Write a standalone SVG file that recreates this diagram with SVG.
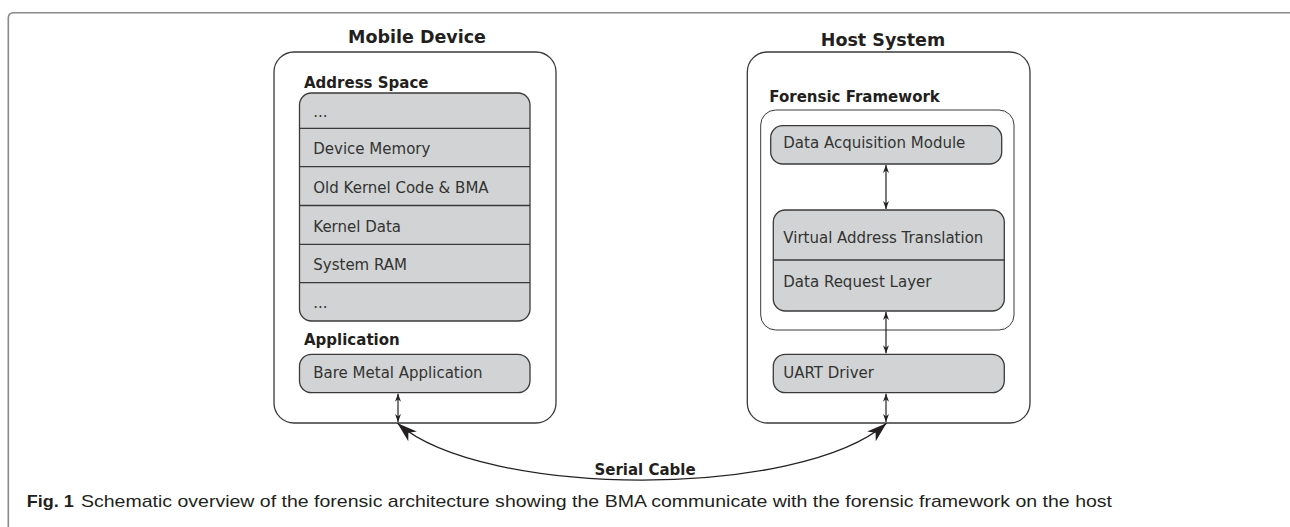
<svg xmlns="http://www.w3.org/2000/svg" width="1290" height="527" viewBox="0 0 1290 527">
<style>
  .frame { fill: none; stroke: #8a8a8a; stroke-width: 1.6; }
  .outer { fill: #ffffff; stroke: #3a3a3a; stroke-width: 1.3; }
  .fw { fill: #ffffff; stroke: #3a3a3a; stroke-width: 1; }
  .box { fill: #d1d3d4; stroke: #3a3a3a; stroke-width: 1.3; }
  .div { stroke: #3a3a3a; stroke-width: 1.3; }
  .title { font-family: "DejaVu Sans", sans-serif; font-weight: bold; font-size: 17.5px; fill: #231f20; }
  .sub { font-family: "DejaVu Sans", sans-serif; font-weight: bold; font-size: 15px; fill: #231f20; }
  .lbl { font-family: "DejaVu Sans", sans-serif; font-size: 15px; fill: #333333; }
  .conn { fill: none; stroke: #231f20; stroke-width: 1.2; }
  .cable { fill: none; stroke: #231f20; stroke-width: 1.3; }
  .cap { font-family: "Liberation Sans", Arial, sans-serif; font-size: 17px; fill: #231f20; }
</style>
<defs>
  <marker id="sm" markerUnits="userSpaceOnUse" markerWidth="12" markerHeight="10" refX="0" refY="0" viewBox="-9 -5 10 10" orient="auto-start-reverse">
    <path d="M0,0 L-8,-3 L-5.5,0 L-8,3 Z" fill="#231f20"/>
  </marker>
  <marker id="big" markerUnits="userSpaceOnUse" markerWidth="24" markerHeight="16" refX="0" refY="0" viewBox="-22 -8 23 16" orient="auto-start-reverse">
    <path d="M0,0 L-20,-6.5 L-14.5,0 L-20,6.5 Z" fill="#231f20"/>
  </marker>
</defs>

<path class="frame" d="M8.3,530 L8.3,18 Q8.3,12.7 13.6,12.7 L1292,12.7"/>

<g id="mobile-device">
  <text class="title" x="417" y="43.3" text-anchor="middle">Mobile Device</text>
  <rect class="outer" x="274" y="52" width="282" height="371" rx="20"/>
</g>

<g id="address-space">
  <text class="sub" x="304" y="88">Address Space</text>
  <rect class="box" x="299.5" y="93" width="230.5" height="228" rx="12"/>
  <line class="div" x1="299.5" y1="128.3" x2="530" y2="128.3"/>
  <line class="div" x1="299.5" y1="166.7" x2="530" y2="166.7"/>
  <line class="div" x1="299.5" y1="205.5" x2="530" y2="205.5"/>
  <line class="div" x1="299.5" y1="244.3" x2="530" y2="244.3"/>
  <line class="div" x1="299.5" y1="282.7" x2="530" y2="282.7"/>
  <text class="lbl" x="313.3" y="116.5">...</text>
  <text class="lbl" x="313.3" y="154">Device Memory</text>
  <text class="lbl" x="313.3" y="193">Old Kernel Code &amp; BMA</text>
  <text class="lbl" x="313.3" y="231.7">Kernel Data</text>
  <text class="lbl" x="313.3" y="270">System RAM</text>
  <text class="lbl" x="313.3" y="308.3">...</text>
</g>

<g id="application">
  <text class="sub" x="304" y="345">Application</text>
  <rect class="box" x="299.5" y="354.3" width="230.5" height="38.4" rx="12"/>
  <text class="lbl" x="313.3" y="378">Bare Metal Application</text>
</g>

<g id="host-system">
  <text class="title" x="883" y="45.5" text-anchor="middle">Host System</text>
  <rect class="outer" x="747.3" y="52" width="282.7" height="371" rx="20"/>
</g>

<g id="forensic-framework">
  <text class="sub" x="769.3" y="101.7">Forensic Framework</text>
  <rect class="fw" x="760.7" y="110" width="253.3" height="220" rx="15"/>
</g>

<g id="data-acquisition-module">
  <rect class="box" x="770.7" y="125.7" width="231" height="38.3" rx="12"/>
  <text class="lbl" x="783.3" y="147.7">Data Acquisition Module</text>
</g>

<g id="translation-request">
  <rect class="box" x="773.3" y="210" width="231" height="101" rx="12"/>
  <line class="div" x1="773.3" y1="260" x2="1004.3" y2="260"/>
  <text class="lbl" x="783.3" y="242.7">Virtual Address Translation</text>
  <text class="lbl" x="783.3" y="286.7">Data Request Layer</text>
</g>

<g id="uart-driver">
  <rect class="box" x="773.3" y="354.3" width="231" height="38.4" rx="12"/>
  <text class="lbl" x="783.3" y="378">UART Driver</text>
</g>

<g id="connectors">
  <line class="conn" x1="398" y1="393.7" x2="398" y2="422" marker-start="url(#sm)" marker-end="url(#sm)"/>
  <line class="conn" x1="886" y1="165" x2="886" y2="209" marker-start="url(#sm)" marker-end="url(#sm)"/>
  <line class="conn" x1="886" y1="312" x2="886" y2="353.3" marker-start="url(#sm)" marker-end="url(#sm)"/>
  <line class="conn" x1="886" y1="393.7" x2="886" y2="422" marker-start="url(#sm)" marker-end="url(#sm)"/>
  <path class="cable" d="M397.5,423.3 C484,499 800,499 886.5,423.3" marker-start="url(#big)" marker-end="url(#big)"/>
  <text class="sub" x="645" y="475" text-anchor="middle">Serial Cable</text>
</g>

<text class="cap" y="507"><tspan x="26.7" font-weight="bold" textLength="47" lengthAdjust="spacingAndGlyphs">Fig. 1</tspan><tspan x="81" textLength="1031" lengthAdjust="spacingAndGlyphs">Schematic overview of the forensic architecture showing the BMA communicate with the forensic framework on the host</tspan></text>
</svg>
